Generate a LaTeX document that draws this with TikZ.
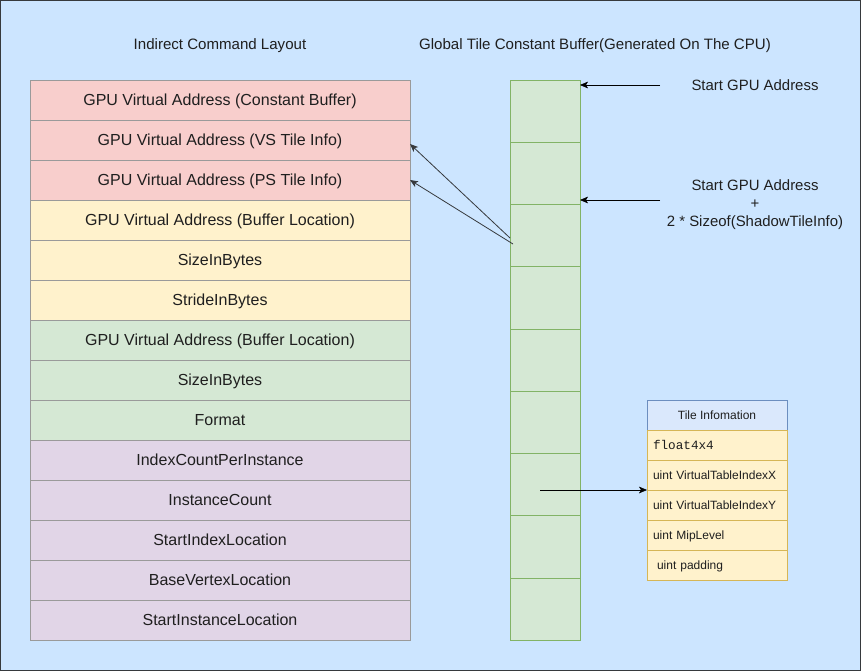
\documentclass[tikz,border=0pt]{standalone}
\usepackage{fontspec}
\setmainfont{Liberation Sans}
\setmonofont{Liberation Mono}
\usetikzlibrary{positioning,arrows.meta}
\definecolor{bgblue}{HTML}{CCE5FF}
\definecolor{frame}{HTML}{36393D}
\definecolor{txt}{HTML}{1F1F1F}
\definecolor{rowline}{HTML}{9A9A9A}
\definecolor{redfill}{HTML}{F8CECC}
\definecolor{yellowfill}{HTML}{FFF2CC}
\definecolor{yellowline}{HTML}{D6B656}
\definecolor{greenfill}{HTML}{D5E8D4}
\definecolor{greenline}{HTML}{82B366}
\definecolor{purplefill}{HTML}{E1D5E7}
\definecolor{headfill}{HTML}{DAE8FC}
\definecolor{headline}{HTML}{6C8EBF}
\begin{document}
\begin{tikzpicture}[x=0.75pt,y=-0.75pt,>={Stealth[length=6pt,width=5pt,inset=1.5pt]},
	title/.style={font=\fontsize{11.3}{13}\selectfont, text=txt},
	cmdrow/.style={draw=rowline, minimum width=285pt, minimum height=30pt, inner sep=0pt, outer sep=0pt, text height=8.6pt, text depth=0pt, font=\fontsize{12}{14}\selectfont, text=txt},
	bufcell/.style={draw=greenline, fill=greenfill, minimum width=52.5pt, minimum height=46.67pt, inner sep=0pt, outer sep=0pt},
	tilehead/.style={draw=headline, fill=headfill, minimum width=105pt, minimum height=22.5pt, inner sep=0pt, outer sep=0pt, text height=6.5pt, text depth=0pt, font=\fontsize{9}{11}\selectfont, text=txt},
	tilerow/.style={draw=yellowline, fill=yellowfill, text width=96pt, align=left, inner xsep=4.5pt, inner ysep=0pt, minimum height=22.5pt, outer sep=0pt, text height=6.5pt, text depth=0pt, font=\fontsize{9}{11}\selectfont, text=txt},
	label/.style={font=\fontsize{11.2}{13.5}\selectfont, text=txt, align=center}]
	\useasboundingbox (0,0) rectangle (861,671);
	\draw[frame, fill=bgblue] (0.5,0.5) rectangle (860.5,670.5);
	% titles
	\node[title] (lefttitle) at (220,46) {Indirect Command Layout};
	\node[title] (buftitle) at (595,46) {Global Tile Constant Buffer(Generated On The CPU)};
	% indirect command layout
	\node[cmdrow, fill=redfill, anchor=north west] (r1) at (30,80) {GPU Virtual Address (Constant Buffer)};
	\node[cmdrow, fill=redfill, below=0pt of r1] (r2) {GPU Virtual Address (VS Tile Info)};
	\node[cmdrow, fill=redfill, below=0pt of r2] (r3) {GPU Virtual Address (PS Tile Info)};
	\node[cmdrow, fill=yellowfill, below=0pt of r3] (r4) {GPU Virtual Address (Buffer Location)};
	\node[cmdrow, fill=yellowfill, below=0pt of r4] (r5) {SizeInBytes};
	\node[cmdrow, fill=yellowfill, below=0pt of r5] (r6) {StrideInBytes};
	\node[cmdrow, fill=greenfill, below=0pt of r6] (r7) {GPU Virtual Address (Buffer Location)};
	\node[cmdrow, fill=greenfill, below=0pt of r7] (r8) {SizeInBytes};
	\node[cmdrow, fill=greenfill, below=0pt of r8] (r9) {Format};
	\node[cmdrow, fill=purplefill, below=0pt of r9] (r10) {IndexCountPerInstance};
	\node[cmdrow, fill=purplefill, below=0pt of r10] (r11) {InstanceCount};
	\node[cmdrow, fill=purplefill, below=0pt of r11] (r12) {StartIndexLocation};
	\node[cmdrow, fill=purplefill, below=0pt of r12] (r13) {BaseVertexLocation};
	\node[cmdrow, fill=purplefill, below=0pt of r13] (r14) {StartInstanceLocation};
	% constant buffer
	\foreach \i in {1,...,9}
		\node[bufcell, anchor=north west] (b\i) at (510,{80+560/9*(\i-1)}) {};
	% tile information
	\node[tilehead, anchor=north west] (th) at (647,400) {Tile Infomation};
	\node[tilerow, below=0pt of th] (t1) {\fontsize{9.5}{11}\ttfamily float4x4};
	\node[tilerow, below=0pt of t1] (t2) {uint VirtualTableIndexX};
	\node[tilerow, below=0pt of t2] (t3) {uint VirtualTableIndexY};
	\node[tilerow, below=0pt of t3] (t4) {uint MipLevel};
	\node[tilerow, below=0pt of t4] (t5) {\ uint padding};
	% start addresses
	\node[label] (start) at (755,85) {Start GPU Address};
	\node[label] (startoff) at (755,205) {Start GPU Address\\+\\2 * Sizeof(ShadowTileInfo)};
	\coordinate (p1) at (660,85);
	\coordinate (p2) at (660,200);
	\draw[->] (p1) -- (p1 -| b1.east);
	\draw[->] (p2) -- (p2 -| b3.east);
	% links
	\coordinate (q1) at (510,238);
	\coordinate (q2) at (513,244);
	\coordinate (q3) at (540,490);
	\draw[->, frame, semithick] (q1) -- ([yshift=-3pt]r2.east);
	\draw[->, frame, semithick] (q2) -- (r3.east);
	\draw[->] (q3) -- (t2.south west);
\end{tikzpicture}
\end{document}
